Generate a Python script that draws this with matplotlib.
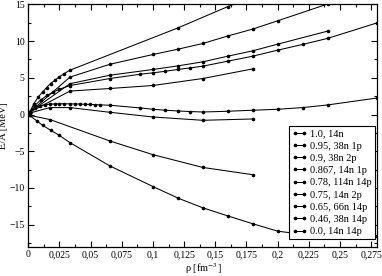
import matplotlib
matplotlib.use("Agg")
import matplotlib.pyplot as plt
from matplotlib.ticker import MultipleLocator, FuncFormatter

plt.rcParams['font.family'] = ['Liberation Serif', 'DejaVu Serif']
plt.rcParams['mathtext.fontset'] = 'stix'

# E/A [MeV] vs density, one pair of lists per system
labels = ["1.0, 14n", "0.95, 38n 1p", "0.9, 38n 2p", "0.867, 14n 1p",
          "0.78, 114n 14p", "0.75, 14n 2p", "0.65, 66n 14p",
          "0.46, 38n 14p", "0.0, 14n 14p"]

rho_10 = [0.001, 0.0046, 0.008, 0.0115, 0.0147, 0.0179, 0.0214, 0.0248, 0.0289, 0.0334, 0.12, 0.16, 0.2]
e_10 = [0.3, 1.5, 2.4, 3.08, 3.68, 4.23, 4.68, 5.13, 5.59, 6.04, 11.8, 14.7, 17.4]

rho_095 = [0.001, 0.0334, 0.0655, 0.1, 0.12, 0.14, 0.16, 0.18, 0.2, 0.24]
e_095 = [0.3, 5.1, 6.85, 8.18, 8.9, 9.68, 10.7, 11.64, 12.77, 15.05]

rho_09 = [0.001, 0.0334, 0.0655, 0.1, 0.12, 0.14, 0.16, 0.18, 0.2, 0.24]
e_09 = [0.3, 4.2, 5.36, 6.14, 6.63, 7.18, 7.95, 8.68, 9.59, 11.36]

rho_0867 = [0.001, 0.005, 0.01, 0.015, 0.02, 0.025, 0.0334, 0.0655, 0.09, 0.1, 0.11,
            0.12, 0.13, 0.14, 0.16, 0.18, 0.2, 0.22, 0.24, 0.28]
e_0867 = [0.3, 1.2, 2.0, 2.6, 3.05, 3.45, 3.95, 4.91, 5.5, 5.68, 5.9,
          6.14, 6.36, 6.59, 7.27, 7.95, 8.77, 9.55, 10.37, 12.5]

rho_078 = [0.001, 0.0334, 0.0655, 0.1, 0.14, 0.18]
e_078 = [0.3, 3.2, 3.55, 3.96, 4.91, 6.22]

rho_075 = [0.001, 0.0054, 0.0094, 0.0134, 0.0174, 0.0214, 0.025, 0.029, 0.0334, 0.0374,
           0.0414, 0.0454, 0.0494, 0.0534, 0.0574, 0.0655, 0.09, 0.1, 0.11, 0.12,
           0.13, 0.14, 0.16, 0.18, 0.2, 0.22, 0.24, 0.28]
e_075 = [0.2, 0.9, 1.2, 1.35, 1.42, 1.45, 1.47, 1.47, 1.46, 1.45,
         1.43, 1.4, 1.38, 1.35, 1.32, 1.27, 0.9, 0.72, 0.59, 0.49,
         0.41, 0.35, 0.45, 0.59, 0.72, 0.95, 1.31, 2.26]

rho_065 = [0.001, 0.0174, 0.0334, 0.0655, 0.1, 0.14, 0.18]
e_065 = [0.2, 0.95, 0.95, 0.31, -0.33, -0.78, -0.6]

rho_046 = [0.001, 0.0174, 0.0655, 0.1, 0.14, 0.18]
e_046 = [-0.1, -0.68, -3.6, -5.46, -7.2, -8.19]

rho_00 = [0.001, 0.0072, 0.0115, 0.018, 0.0248, 0.0334, 0.0655, 0.1, 0.12, 0.14,
          0.16, 0.18, 0.2, 0.22, 0.24, 0.28]
e_00 = [-0.1, -0.91, -1.46, -2.14, -2.82, -3.82, -7.0, -9.8, -11.37, -12.7,
        -13.8, -14.87, -15.88, -16.3, -16.5, -16.6]

series = [(rho_10, e_10), (rho_095, e_095), (rho_09, e_09), (rho_0867, e_0867),
          (rho_078, e_078), (rho_075, e_075), (rho_065, e_065),
          (rho_046, e_046), (rho_00, e_00)]

fig = plt.figure(figsize=(3.82, 2.76), dpi=100)
ax = fig.add_axes([0.074, 0.106, 0.914, 0.878])

for (x, y), lab in zip(series, labels):
    ax.plot(x, y, color='black', lw=0.75, marker='o', ms=1.6, label=lab)

ax.set_xlim(0, 0.28)
ax.set_ylim(-18, 15)
ax.xaxis.set_major_locator(MultipleLocator(0.025))
ax.xaxis.set_minor_locator(MultipleLocator(0.0125))
ax.yaxis.set_major_locator(MultipleLocator(5))
ax.yaxis.set_minor_locator(MultipleLocator(2.5))
ax.xaxis.set_major_formatter(FuncFormatter(lambda v, p: ('%g' % round(v, 4)).replace('.', ',')))
ax.tick_params(which='both', direction='in', top=True, right=True, labelsize=7, width=0.8, pad=2.5)
ax.tick_params(which='major', length=4.3)
ax.tick_params(which='minor', length=2.2)
for s in ax.spines.values():
    s.set_linewidth(0.9)

ax.set_xlabel(r'ρ [fm$^{-3}$]', fontsize=7.5, labelpad=1)
ax.set_ylabel('E/A [MeV]', fontsize=7.5, labelpad=1)

leg = ax.legend(loc='upper left', bbox_to_anchor=(0.747, 0.498), fontsize=7.5,
                numpoints=2, handlelength=1.4, handletextpad=0.3, labelspacing=0.28,
                borderpad=0.3, borderaxespad=0, fancybox=False, framealpha=1)
leg.get_frame().set_edgecolor('black')
leg.get_frame().set_linewidth(0.8)

fig.savefig('out.png', dpi=100)
